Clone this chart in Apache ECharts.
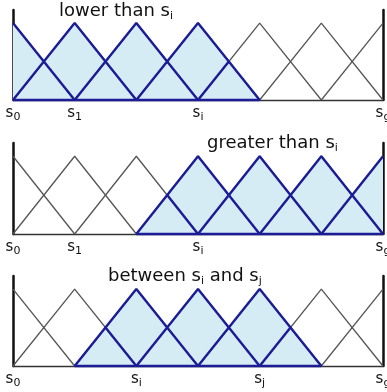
<!DOCTYPE html>
<html>
<head>
<meta charset="utf-8">
<script src="https://cdn.jsdelivr.net/npm/echarts@6/dist/echarts.min.js"></script>
<style>
  html, body { margin: 0; padding: 0; background: #fff; }
  #main { width: 387px; height: 392px; }
</style>
</head>
<body>
<div id="main"></div>
<script>
// linguistic term centres s0..sg
const terms = [0, 1, 2, 3, 4, 5, 6];

// panel titles (rich text)
const titles = [
  '{t|lower than s}{sub|i}',
  '{t|greater than s}{sub|i}',
  '{t|between s}{sub|i}{t| and s}{sub|j}'
];

// tick positions and subscripts per panel
const topTicks = [0, 1, 3, 6];
const topSubs = ['0', '1', 'i', 'g'];
const midTicks = [0, 1, 3, 6];
const midSubs = ['0', '1', 'i', 'g'];
const botTicks = [0, 2, 4, 6];
const botSubs = ['0', 'i', 'j', 'g'];

// selected (shaded) term ranges [first, last]
const topRange = [0, 3];
const midRange = [3, 6];
const botRange = [2, 4];

const X_MIN = terms[0];
const X_MAX = terms[terms.length - 1];

const FILL = '#d6ecf5';
const BLUE = '#1c1c96';
const GREY = '#555555';

const panels = [
  { ticks: topTicks, subs: topSubs, range: topRange, top: 10, height: 90, title: titles[0], tLeft: 59, tTop: 0 },
  { ticks: midTicks, subs: midSubs, range: midRange, top: 143, height: 91, title: titles[1], tLeft: 207, tTop: 132 },
  { ticks: botTicks, subs: botSubs, range: botRange, top: 276, height: 90, title: titles[2], tLeft: 108, tTop: 265 }
];

function triPoints(c) {
  const pts = [];
  if (c - 1 >= X_MIN) pts.push([c - 1, 0]);
  pts.push([c, 1]);
  if (c + 1 <= X_MAX) pts.push([c + 1, 0]);
  return pts;
}

// upper outline of the union of the selected triangles
function envelope(a, b) {
  const pts = [];
  if (a - 1 >= X_MIN) pts.push([a - 1, 0]);
  for (let k = a; k <= b; k++) {
    pts.push([k, 1]);
    if (k < b) pts.push([k + 0.5, 0.5]);
  }
  if (b + 1 <= X_MAX) pts.push([b + 1, 0]);
  return pts;
}

function lineSeries(g, data, color, width, z, area) {
  const s = {
    type: 'line',
    xAxisIndex: g,
    yAxisIndex: g * 2,
    data: data,
    symbol: 'none',
    clip: false,
    silent: true,
    animation: false,
    z: z,
    lineStyle: { color: color, width: width }
  };
  if (area) {
    s.areaStyle = { color: FILL, opacity: 1 };
    s.lineStyle = { width: 0 };
  }
  return s;
}

const tickRich = {
  s: { fontSize: 15, fontFamily: 'DejaVu Sans', color: '#111', lineHeight: 20 },
  sub: { fontSize: 11, fontFamily: 'DejaVu Sans', color: '#111', lineHeight: 12, verticalAlign: 'bottom' }
};

const grids = [], xAxes = [], yAxes = [], series = [], titleList = [];

panels.forEach((p, g) => {
  grids.push({ left: 13, right: 4, top: p.top, height: p.height, containLabel: false, outerBoundsMode: 'none' });

  xAxes.push({
    type: 'value',
    gridIndex: g,
    min: X_MIN,
    max: X_MAX,
    axisLine: { show: true, lineStyle: { color: '#333', width: 1.3 } },
    axisTick: { show: false },
    splitLine: { show: false },
    axisLabel: {
      customValues: p.ticks,
      margin: 3,
      formatter: v => '{s|s}{sub|' + p.subs[p.ticks.indexOf(v)] + '}',
      rich: tickRich
    }
  });

  ['left', 'right'].forEach(pos => {
    yAxes.push({
      type: 'value',
      gridIndex: g,
      position: pos,
      min: 0,
      max: 1.17,
      axisLine: { show: true, onZero: false, lineStyle: { color: '#111', width: 2.5 } },
      axisTick: { show: false },
      axisLabel: { show: false },
      splitLine: { show: false }
    });
  });

  const a = p.range[0], b = p.range[1];

  // shaded region
  series.push(lineSeries(g, envelope(a, b), FILL, 0, 1, true));

  // all membership functions, thin grey
  terms.forEach(c => series.push(lineSeries(g, triPoints(c), GREY, 1.3, 2)));

  // selected ones in blue
  for (let c = a; c <= b; c++) series.push(lineSeries(g, triPoints(c), BLUE, 2.4, 3));
  // neighbour edges lying inside the shaded region
  if (a - 1 >= X_MIN) series.push(lineSeries(g, [[a - 0.5, 0.5], [a, 0]], BLUE, 2.4, 3));
  if (b + 1 <= X_MAX) series.push(lineSeries(g, [[b, 0], [b + 0.5, 0.5]], BLUE, 2.4, 3));
  // base of the shaded region
  series.push(lineSeries(g, [[Math.max(a - 1, X_MIN), 0], [Math.min(b + 1, X_MAX), 0]], BLUE, 2.4, 3));

  titleList.push({
    text: p.title,
    left: p.tLeft,
    top: p.tTop,
    padding: 0,
    textStyle: {
      rich: {
        t: { fontSize: 18, fontFamily: 'DejaVu Sans', fontWeight: 'normal', color: '#111', lineHeight: 22 },
        sub: { fontSize: 11, fontFamily: 'DejaVu Sans', fontWeight: 'normal', color: '#111', lineHeight: 12, verticalAlign: 'bottom' }
      }
    }
  });
});

const chart = echarts.init(document.getElementById('main'), null, { renderer: 'canvas' });
chart.setOption({
  backgroundColor: '#fff',
  animation: false,
  title: titleList,
  grid: grids,
  xAxis: xAxes,
  yAxis: yAxes,
  series: series
});
</script>
</body>
</html>
